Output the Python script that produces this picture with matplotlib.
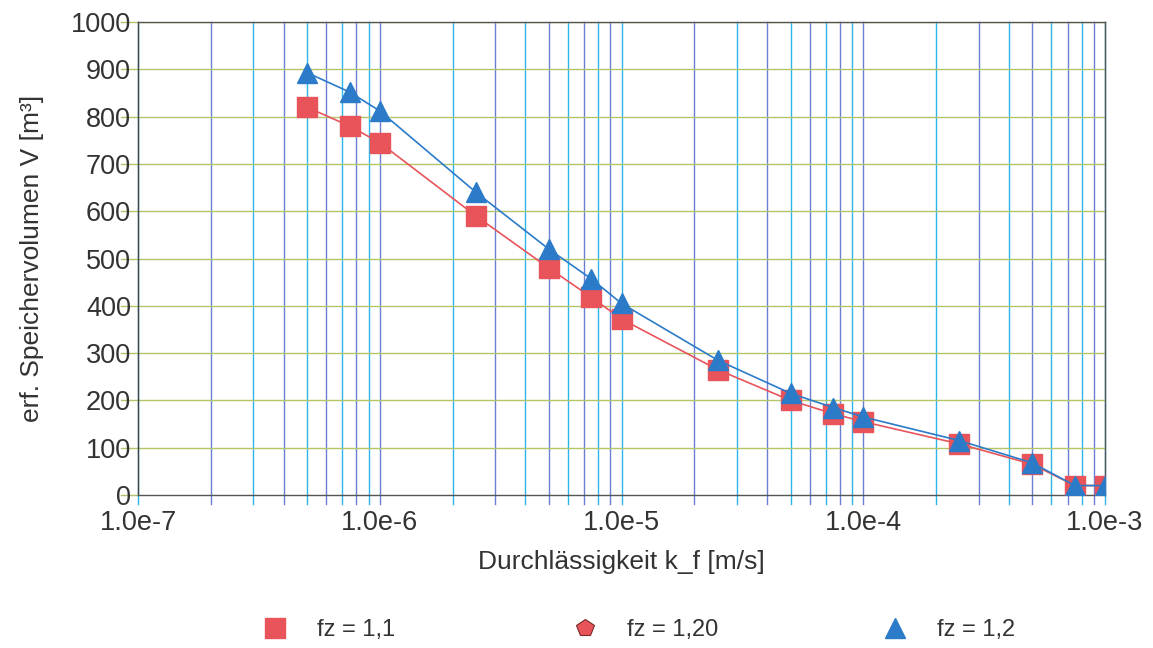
import matplotlib

matplotlib.use("Agg")
import matplotlib.pyplot as plt
from matplotlib.lines import Line2D

# permeability k_f [m/s]
k_f = [5e-7, 7.5e-7, 1e-6, 2.5e-6, 5e-6, 7.5e-6, 1e-5, 2.5e-5, 5e-5, 7.5e-5, 1e-4, 2.5e-4, 5e-4, 7.5e-4, 1e-3]
# required storage volume [m3]
v_fz_1_1 = [820, 780, 745, 590, 480, 418, 372, 265, 200, 172, 155, 108, 65, 20, 20]
v_fz_1_2 = [893, 852, 812, 640, 520, 457, 405, 285, 215, 185, 165, 115, 68, 20, 20]
v_fz_1_20 = []  # only shows up in the legend

labels = ["fz = 1,1", "fz = 1,20", "fz = 1,2"]
xtick_labels = ["1.0e-7", "1.0e-6", "1.0e-5", "1.0e-4", "1.0e-3"]

RED = "#e8545a"
BLUE = "#2b7bc9"
CYAN = "#2cb6e8"
SLATE = "#6b7fd2"
GREEN = "#b3c46a"
TXT = "#333333"

plt.rcParams["font.family"] = ["Liberation Sans", "DejaVu Sans"]

fig = plt.figure(figsize=(11.53, 6.48), dpi=100)
ax = fig.add_axes([0.1197, 0.2361, 0.8387, 0.7299])

ax.set_xscale("log")
ax.set_xlim(1e-7, 1e-3)
ax.set_ylim(0, 1000)

# vertical grid at every log step, alternating colours, reaching below the axis like ticks
grid_x = [m * 10.0 ** e for e in range(-7, -3) for m in range(1, 10)] + [1e-3]
for i, gx in enumerate(grid_x):
    col = CYAN if i % 2 == 0 else SLATE
    ax.plot([gx, gx], [-20, 1000], color=col, lw=1.0, clip_on=False, zorder=1)

for gy in range(100, 1001, 100):
    ax.plot([1e-7, 1e-3], [gy, gy], color=GREEN, lw=1.0, zorder=1)
for gy in range(0, 1001, 100):
    ax.plot([0.85e-7, 1e-7], [gy, gy], color=GREEN, lw=1.0, clip_on=False, zorder=1)

ax.plot(k_f, v_fz_1_1, color=RED, lw=1.2, marker="s", ms=14,
        mec=RED, mfc=RED, zorder=3)
ax.plot(v_fz_1_20, v_fz_1_20, color=RED, lw=0, marker="p", zorder=3)
ax.plot(k_f, v_fz_1_2, color=BLUE, lw=1.2, marker="^", ms=14.5,
        mec=BLUE, mfc=BLUE, zorder=4)

ax.set_xticks([1e-7, 1e-6, 1e-5, 1e-4, 1e-3])
ax.set_xticklabels(xtick_labels)
ax.xaxis.set_minor_locator(matplotlib.ticker.NullLocator())
ax.set_yticks(range(0, 1001, 100))
ax.tick_params(axis="both", length=0, labelsize=19.5, labelcolor=TXT)
ax.tick_params(axis="x", pad=11)
ax.tick_params(axis="y", pad=5)

for side in ["left", "bottom", "right", "top"]:
    ax.spines[side].set_color("#555555")
    ax.spines[side].set_linewidth(1.0)
ax.spines["left"].set_color("#444444")

ax.set_xlabel("Durchlässigkeit k_f [m/s]", fontsize=19, color=TXT, labelpad=10)
ax.set_ylabel("erf. Speichervolumen V [m³]", fontsize=19, color=TXT, labelpad=19)

# legend below the plot, one entry per slot
handles = [
    Line2D([], [], ls="none", marker="s", ms=15, mfc=RED, mec=RED),
    Line2D([], [], ls="none", marker="p", ms=13, mfc=RED, mec="#7a2a2a", mew=0.8),
    Line2D([], [], ls="none", marker="^", ms=15, mfc=BLUE, mec=BLUE),
]
slot_x = [275, 585, 895]
for h, lab, sx in zip(handles, labels, slot_x):
    fig.legend(handles=[h], labels=[lab], loc="center left",
               bbox_to_anchor=((sx - 12) / 1153, 1 - 630 / 648),
               frameon=False, fontsize=17, handlelength=1.0, handletextpad=1.3,
               borderpad=0, borderaxespad=0, labelcolor=TXT)

fig.savefig("out.png", dpi=100)
plt.close(fig)
